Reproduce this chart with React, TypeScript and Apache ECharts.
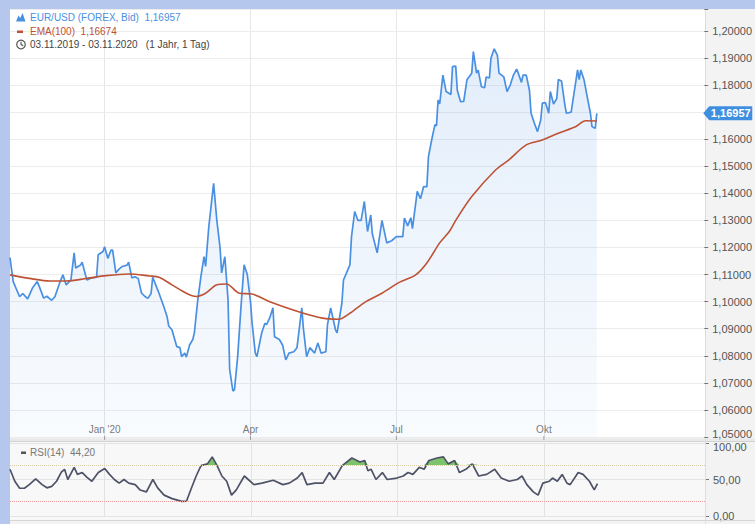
import React, { useEffect, useRef } from 'react';
import * as echarts from 'echarts';

// ---- data (day offsets counted from 03.11.2019) ----
const priceDays = [
  0, 2, 6, 8, 11, 14, 17, 18, 21, 23, 26, 28, 31, 33, 35, 38, 40, 41, 44, 45,
  47, 48, 51, 54, 55, 58, 59, 61, 63, 64, 66, 68, 70, 73, 74, 76, 78, 80, 82, 84,
  86, 88, 89, 91, 93, 96, 98, 99, 101, 104, 106, 107, 109, 110, 112, 114, 115, 117, 119, 121,
  122, 124, 127, 129, 131, 132, 134, 136, 137, 139, 140, 142, 144, 146, 148, 150, 151, 153, 154, 157,
  159, 160, 162, 164, 165, 168, 170, 172, 174, 177, 179, 182, 183, 185, 187, 190, 192, 194, 197, 198,
  200, 201, 203, 204, 207, 208, 212, 213, 215, 217, 219, 221, 223, 225, 226, 229, 232, 235, 238, 241,
  245, 246, 248, 250, 251, 254, 256, 258, 260, 261, 263, 265, 266, 267, 268, 270, 272, 275, 276, 278,
  279, 281, 283, 285, 288, 289, 291, 292, 294, 296, 297, 299, 300, 302, 304, 305, 308, 310, 312, 314,
  316, 317, 319, 320, 322, 324, 325, 327, 329, 331, 332, 334, 336, 337, 339, 341, 342, 344, 346, 347,
  350, 351, 354, 355, 356, 358, 360, 362, 363, 365, 366,
];
const priceValues = [
  1.1163, 1.1074, 1.1018, 1.103, 1.101, 1.105, 1.1074, 1.106, 1.1013, 1.102, 1.1005, 1.1018, 1.107, 1.1099, 1.1062, 1.108, 1.118, 1.1124, 1.1135, 1.1146,
  1.11, 1.108, 1.1088, 1.109, 1.1173, 1.1185, 1.1203, 1.116, 1.119, 1.119, 1.1106, 1.112, 1.113, 1.1135, 1.1146, 1.1088, 1.1092, 1.1085, 1.1032, 1.102,
  1.1012, 1.103, 1.109, 1.106, 1.103, 1.098, 1.0944, 1.091, 1.0896, 1.0834, 1.083, 1.0797, 1.081, 1.0795, 1.084, 1.086, 1.0885, 1.1, 1.109, 1.1166,
  1.113, 1.1277, 1.1437, 1.13, 1.12, 1.1106, 1.1166, 1.1006, 1.075, 1.067, 1.0674, 1.0797, 1.0975, 1.1136, 1.11, 1.1, 1.092, 1.081, 1.0797, 1.0885,
  1.092, 1.0915, 1.094, 1.0977, 1.087, 1.086, 1.084, 1.0785, 1.081, 1.0815, 1.083, 1.0977, 1.09, 1.0797, 1.083, 1.081, 1.0847, 1.081, 1.0815, 1.0914,
  1.0977, 1.095, 1.0896, 1.0885, 1.0995, 1.108, 1.1136, 1.124, 1.1333, 1.13, 1.13, 1.137, 1.1259, 1.132, 1.125, 1.118, 1.13, 1.1217, 1.1225, 1.124,
  1.124, 1.1309, 1.128, 1.131, 1.127, 1.1407, 1.138, 1.1425, 1.1425, 1.1536, 1.1597, 1.1653, 1.165, 1.1745, 1.173, 1.1837, 1.1776, 1.1765, 1.1868, 1.187,
  1.178, 1.1739, 1.174, 1.182, 1.1844, 1.1924, 1.1844, 1.1855, 1.1794, 1.179, 1.183, 1.1826, 1.19, 1.1934, 1.191, 1.1844, 1.183, 1.1776, 1.18, 1.1837,
  1.1859, 1.1844, 1.181, 1.1837, 1.1837, 1.178, 1.1696, 1.166, 1.1628, 1.167, 1.1733, 1.1735, 1.1696, 1.1776, 1.173, 1.175, 1.182, 1.1815, 1.173, 1.1696,
  1.17, 1.174, 1.1856, 1.182, 1.1856, 1.182, 1.1757, 1.1696, 1.1647, 1.164, 1.16957,
];
const emaDays = [
  0, 12, 25, 35, 48, 60, 74, 87, 93, 101, 110, 116, 122, 129, 135, 143, 151, 162, 180, 195,
  205, 212, 222, 232, 243, 253, 260, 268, 274, 278, 288, 303, 311, 322, 332, 342, 353, 359, 366,
];
const emaValues = [
  1.1099, 1.1086, 1.1076, 1.1076, 1.1086, 1.1096, 1.1102, 1.1095, 1.109, 1.1062, 1.1031, 1.1019, 1.1031, 1.1062, 1.1065, 1.1031, 1.1028, 1.1, 1.0963, 1.0939,
  1.0935, 1.0957, 1.1, 1.1031, 1.1072, 1.1099, 1.1143, 1.1217, 1.1259, 1.13, 1.1388, 1.1487, 1.1523, 1.1579, 1.1597, 1.1622, 1.1647, 1.1668, 1.16674,
];
const rsiDays = [
  0, 3, 6, 9, 12, 16, 20, 23, 26, 29, 32, 34, 36, 40, 42, 45, 48, 51, 55, 59,
  62, 65, 68, 71, 74, 78, 81, 85, 89, 92, 96, 101, 107, 110, 113, 116, 119, 123, 126, 129,
  132, 135, 138, 141, 146, 152, 157, 164, 170, 174, 179, 182, 185, 190, 195, 199, 202, 207, 213, 218,
  221, 223, 225, 228, 232, 235, 241, 245, 248, 251, 255, 258, 261, 266, 270, 273, 277, 280, 284, 288,
  292, 297, 302, 306, 311, 316, 319, 322, 326, 329, 332, 336, 338, 341, 344, 347, 349, 354, 357, 361,
  364, 366,
];
const rsiValues = [
  64, 47.6, 38, 38, 43, 51, 43, 38.6, 40.5, 47.6, 60, 64, 50, 66.7, 57, 59.5, 53, 47.6, 59.5, 65,
  57, 50, 45, 50, 45, 43, 35.7, 33, 50, 38.6, 28.6, 23.8, 20, 20.5, 38, 54.8, 69, 71.4, 81, 69,
  54.8, 47.6, 28.6, 35.7, 54.8, 43, 45, 49, 43, 45, 52, 59.5, 43, 45, 45, 59.5, 50, 69, 79.5, 74,
  76, 62, 64, 50, 59.5, 50, 52, 54.8, 59.5, 57, 66.7, 64, 76, 79.5, 81, 71.4, 76, 59.5, 64, 71.4,
  54.8, 57, 64, 52, 47.6, 50, 54.8, 43, 33, 28.6, 45, 47.6, 52, 47.6, 57, 45, 43, 59.5, 57, 47.6,
  35.7, 44.2,
];
const quarterDates = ['2020-01-01', '2020-04-01', '2020-07-01', '2020-10-01'];
const quarterLabels = ["Jan '20", 'Apr', 'Jul', 'Okt'];
const priceMin = 1.05;
const priceMax = 1.2081;
const priceStep = 0.01;
const rsiMin = 0;
const rsiMax = 100;
const rsiUpper = 70;
const rsiLower = 20;
const axisEndDay = 433;
const rangeText = '03.11.2019 - 03.11.2020   (1 Jahr, 1 Tag)';

const FONT = '"Liberation Sans", Arial, sans-serif';
const BLUE = '#4a90e2';
const RED = '#bd5234';

const dayTs = (d: number) => new Date(2019, 10, 3 + d).getTime();
const dateTs = (s: string) => {
  const [y, m, d] = s.split('-').map(Number);
  return new Date(y, m - 1, d).getTime();
};
const fmt = (v: number, n: number) => v.toFixed(n).replace('.', ',');

function buildOption() {
  const xMin = dayTs(0);
  const xMax = dayTs(axisEndDay);
  const lastPrice = priceValues[priceValues.length - 1];
  const lastEma = emaValues[emaValues.length - 1];
  const lastRsi = rsiValues[rsiValues.length - 1];
  const isTick = (v: number) => Math.abs(v / priceStep - Math.round(v / priceStep)) < 1e-6;

  const txt = (x: number, y: number, text: string, fill: string, size = 10) => ({
    type: 'text', x, y, z: 30,
    style: { text, fill, fontSize: size, fontFamily: FONT, verticalAlign: 'middle', align: 'left' },
  });
  const labelStyle = { color: '#555', fontSize: 11, fontFamily: FONT };

  return {
    animation: false,
    backgroundColor: '#b6c7ee',
    textStyle: { fontFamily: FONT },
    grid: [
      { left: 10, top: 9, width: 695, height: 428 },
      { left: 10, top: 443, width: 695, height: 73 },
    ],
    xAxis: [
      { type: 'time', gridIndex: 0, min: xMin, max: xMax, show: false },
      { type: 'time', gridIndex: 1, min: xMin, max: xMax, show: false },
    ],
    yAxis: [
      {
        type: 'value', gridIndex: 0, position: 'right', min: priceMin, max: priceMax, interval: priceStep, z: 10,
        axisLine: { show: false },
        axisTick: { show: true, length: 4, lineStyle: { color: '#777' } },
        axisLabel: {
          margin: 8, ...labelStyle,
          formatter: (v: number) => {
            if (!isTick(v)) return '';
            return Math.abs(v - priceMin) < 1e-9 ? `{lo|${fmt(v, 5)}}` : fmt(v, 5);
          },
          rich: { lo: { ...labelStyle, padding: [0, 0, 6, 0] } },
        },
        splitLine: { lineStyle: { color: '#ececec' } },
      },
      {
        type: 'value', gridIndex: 1, position: 'right', min: rsiMin, max: rsiMax, interval: 50, z: 1,
        axisLine: { show: false },
        axisTick: { show: true, length: 4, lineStyle: { color: '#777' } },
        axisLabel: {
          margin: 8, ...labelStyle,
          formatter: (v: number) => (v === rsiMax ? `{hi|${fmt(v, 2)}}` : fmt(v, 2)),
          rich: { hi: { ...labelStyle, padding: [7, 0, 0, 0] } },
        },
        splitLine: { lineStyle: { color: '#e4e4e4' } },
      },
    ],
    graphic: [
      { type: 'rect', z: -5, shape: { x: 10, y: 9, width: 745, height: 515 }, style: { fill: '#f3f3f3' } },
      { type: 'rect', z: -4, shape: { x: 10, y: 9, width: 695, height: 429 }, style: { fill: '#ffffff' } },
      { type: 'rect', z: -4, shape: { x: 10, y: 442, width: 695, height: 78 }, style: { fill: '#f8f8f8' } },
      { type: 'rect', z: 5, shape: { x: 10, y: 438.5, width: 745, height: 3.5 }, style: { fill: '#e9e9e9' } },
      { type: 'line', z: 6, shape: { x1: 10, y1: 441.5, x2: 755, y2: 441.5 }, style: { stroke: '#d2d2d2', lineWidth: 1 } },
      { type: 'line', z: 6, shape: { x1: 10, y1: 520.5, x2: 755, y2: 520.5 }, style: { stroke: '#d6d6d6', lineWidth: 1 } },
      { type: 'line', z: 6, shape: { x1: 705.5, y1: 9, x2: 705.5, y2: 524 }, style: { stroke: '#dedede', lineWidth: 1 } },
      // legend
      { type: 'polygon', z: 30, shape: { points: [[16, 21.5], [18.5, 15.5], [20.2, 18], [22.6, 13], [25.5, 21.5]] }, style: { fill: BLUE } },
      txt(30, 17.5, `EUR/USD (FOREX, Bid)  ${fmt(lastPrice, 5)}`, BLUE),
      { type: 'rect', z: 30, shape: { x: 17, y: 30.5, width: 6, height: 2.5 }, style: { fill: RED } },
      txt(30, 31.5, `EMA(100)  ${fmt(lastEma, 5)}`, RED),
      { type: 'circle', z: 30, shape: { cx: 21, cy: 44.5, r: 4.3 }, style: { fill: 'none', stroke: '#555', lineWidth: 1.2 } },
      { type: 'polyline', z: 30, shape: { points: [[21, 41.8], [21, 44.6], [23.2, 45.8]] }, style: { fill: 'none', stroke: '#555', lineWidth: 1.1 } },
      txt(30, 44.5, rangeText, '#444'),
      { type: 'rect', z: 30, shape: { x: 21, y: 451.5, width: 5, height: 2.5 }, style: { fill: '#555' } },
      txt(30, 452.5, `RSI(14)  ${fmt(lastRsi, 2)}`, '#777'),
    ],
    series: [
      {
        name: 'quarters', type: 'scatter', xAxisIndex: 0, yAxisIndex: 0, silent: true, clip: false, z: 14,
        data: quarterDates.map((s, i) => ({ value: [dateTs(s), priceMin], label: { formatter: quarterLabels[i] } })),
        symbol: 'rect', symbolSize: [1, 4], symbolOffset: [0, 1],
        itemStyle: { color: '#888' },
        label: { show: true, position: 'top', distance: 2, color: '#555', fontSize: 10, fontFamily: FONT },
        markLine: {
          silent: true, symbol: ['none', 'none'], label: { show: false }, z: 1,
          lineStyle: { color: '#e6e6e6', type: 'solid', width: 1 },
          data: quarterDates.map((s) => ({ xAxis: dateTs(s) })),
        },
      },
      {
        name: 'EUR/USD', type: 'line', xAxisIndex: 0, yAxisIndex: 0, z: 12,
        data: priceDays.map((d, i) => [dayTs(d), priceValues[i]]),
        showSymbol: false, symbol: 'none',
        lineStyle: { color: BLUE, width: 1.7 },
        areaStyle: {
          origin: 'start',
          color: new echarts.graphic.LinearGradient(0, 0, 0, 1, [
            { offset: 0, color: 'rgba(74,144,226,0.22)' },
            { offset: 1, color: 'rgba(74,144,226,0.05)' },
          ]),
        },
        markPoint: {
          silent: true, z: 20,
          symbol: 'path://M0,7L6,0L49,0L49,14L6,14Z',
          symbolSize: [49, 14],
          symbolKeepAspect: false,
          symbolOffset: [23.5, 0],
          itemStyle: { color: '#3f8fe0' },
          label: { show: true, position: 'inside', offset: [3, 0], color: '#fff', fontSize: 11, fontWeight: 'bold', fontFamily: FONT, formatter: fmt(lastPrice, 5) },
          data: [{ coord: [xMax, lastPrice] }],
        },
      },
      {
        name: 'EMA(100)', type: 'line', xAxisIndex: 0, yAxisIndex: 0, z: 13,
        data: emaDays.map((d, i) => [dayTs(d), emaValues[i]]),
        showSymbol: false, symbol: 'none', smooth: 0.3,
        lineStyle: { color: RED, width: 1.6 },
      },
      {
        name: 'rsiQuarters', type: 'scatter', xAxisIndex: 1, yAxisIndex: 1, silent: true, clip: false, z: 1,
        data: quarterDates.map((s) => [dateTs(s), rsiMin]),
        symbolSize: 0,
        markLine: {
          silent: true, symbol: ['none', 'none'], label: { show: false }, z: 1,
          lineStyle: { color: '#e2e2e2', type: 'solid', width: 1 },
          data: quarterDates.map((s) => ({ xAxis: dateTs(s) })),
        },
      },
      {
        name: 'rsiBase', type: 'line', xAxisIndex: 1, yAxisIndex: 1, stack: 'ob', silent: true, z: 2,
        data: rsiDays.map((d) => [dayTs(d), rsiUpper]),
        symbol: 'none', lineStyle: { opacity: 0, width: 0 },
      },
      {
        name: 'rsiOver', type: 'line', xAxisIndex: 1, yAxisIndex: 1, stack: 'ob', silent: true, z: 2,
        data: rsiDays.map((d, i) => [dayTs(d), Math.max(0, rsiValues[i] - rsiUpper)]),
        symbol: 'none', lineStyle: { opacity: 0, width: 0 },
        areaStyle: { color: '#7cc36b', opacity: 1 },
      },
      {
        name: 'RSI(14)', type: 'line', xAxisIndex: 1, yAxisIndex: 1, z: 4,
        data: rsiDays.map((d, i) => [dayTs(d), rsiValues[i]]),
        showSymbol: false, symbol: 'none',
        lineStyle: { color: '#4e5266', width: 1.7 },
        markLine: {
          silent: true, symbol: ['none', 'none'], label: { show: false },
          data: [
            { yAxis: rsiUpper, lineStyle: { color: '#d9cfa9', type: 'dotted', width: 1 } },
            { yAxis: rsiLower, lineStyle: { color: '#ec9a9a', type: 'dotted', width: 1 } },
          ],
        },
      },
    ],
  };
}

export default function App() {
  const ref = useRef<HTMLDivElement>(null);
  useEffect(() => {
    const chart = echarts.init(ref.current as HTMLDivElement, undefined, { renderer: 'svg' });
    chart.setOption(buildOption() as any);
    return () => chart.dispose();
  }, []);
  return <div ref={ref} style={{ position: 'fixed', left: 0, top: 0, width: 755, height: 524 }} />;
}
